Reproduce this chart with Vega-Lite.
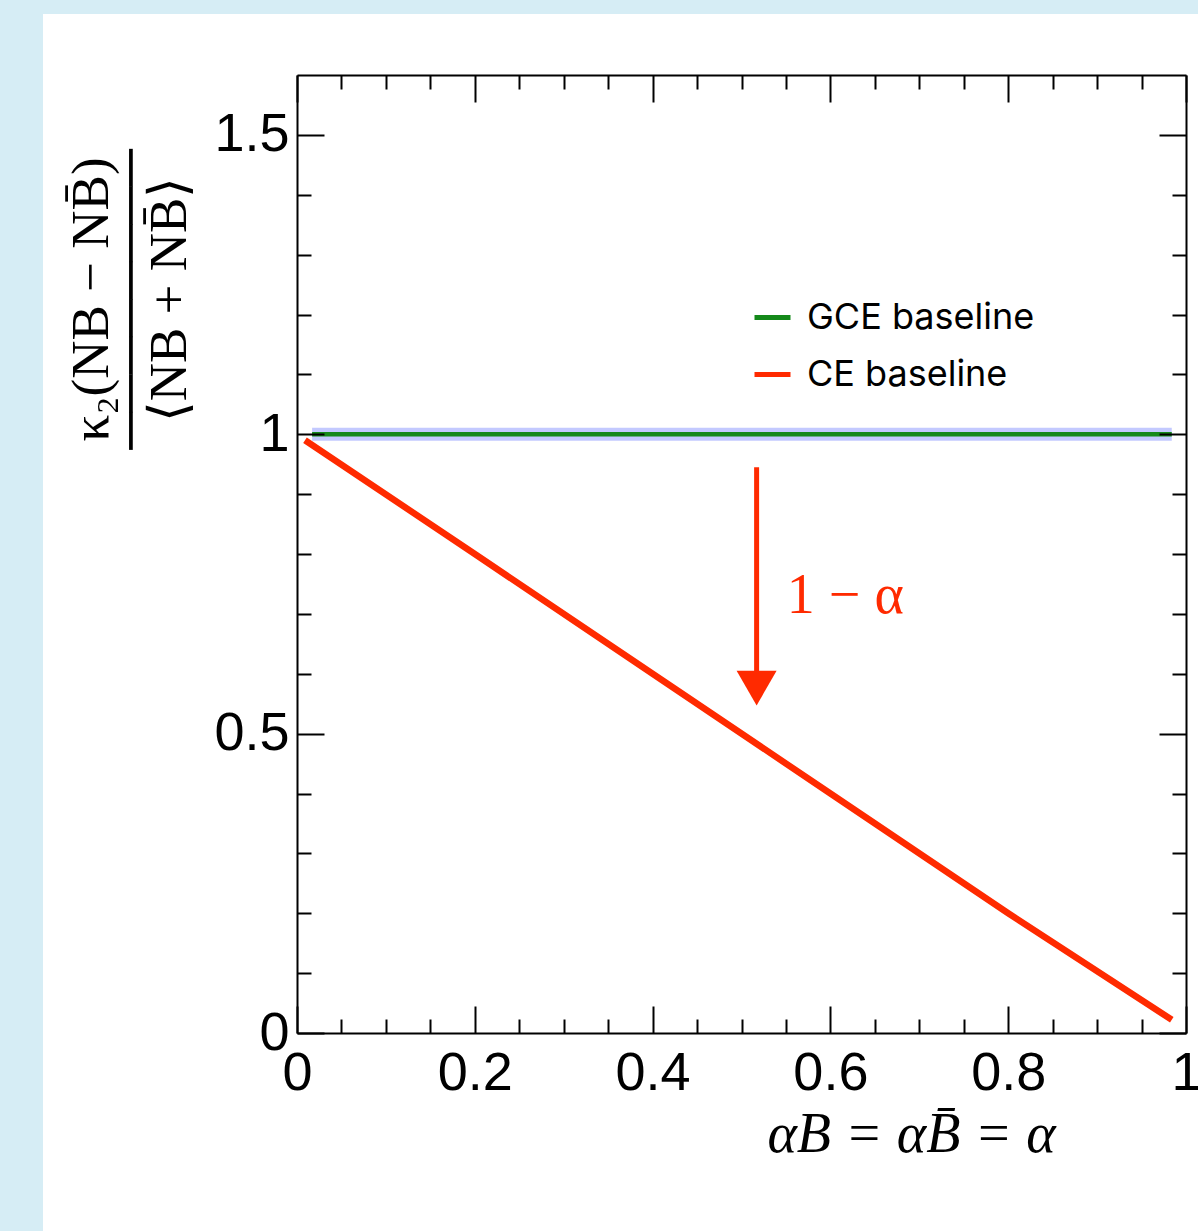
{
  "$schema": "https://vega.github.io/schema/vega-lite/v6.json",
  "width": 889,
  "height": 958,
  "autosize": {"type": "none"},
  "padding": {"left": 297, "top": 75, "right": 12, "bottom": 198},
  "background": "#d6edf5",
  "config": {
    "view": {"stroke": null},
    "axis": {
      "grid": false,
      "tickColor": "black",
      "tickWidth": 2,
      "domainColor": "black",
      "domainWidth": 2,
      "labelFont": "Liberation Sans",
      "labelFontSize": 54,
      "labelColor": "black",
      "labelFlush": false,
      "labelOverlap": false
    }
  },
  "resolve": {"axis": {"x": "independent", "y": "independent"}},
  "datasets": {
    "card": [{"part": "card"}],
    "baselines": [
      {"series": "GCE baseline", "alpha": 0.017, "ratio": 1.0},
      {"series": "GCE baseline", "alpha": 0.5, "ratio": 1.0},
      {"series": "GCE baseline", "alpha": 0.984, "ratio": 1.0},
      {"series": "CE baseline", "alpha": 0.009, "ratio": 0.99},
      {"series": "CE baseline", "alpha": 0.2, "ratio": 0.8},
      {"series": "CE baseline", "alpha": 0.4, "ratio": 0.6},
      {"series": "CE baseline", "alpha": 0.6, "ratio": 0.4},
      {"series": "CE baseline", "alpha": 0.8, "ratio": 0.2},
      {"series": "CE baseline", "alpha": 0.984, "ratio": 0.022}
    ],
    "arrow": [{"alpha": 0.517, "from": 0.945, "to": 0.576, "label": "1 − α", "labelAlpha": 0.551, "labelRatio": 0.702}]
  },
  "layer": [
    {
      "data": {"name": "card"},
      "mark": {"type": "rect", "fill": "white"},
      "encoding": {
        "x": {"datum": -0.2857, "type": "quantitative", "scale": {"domain": [0, 1], "nice": false, "zero": false},
          "axis": {"orient": "bottom", "zindex": 2, "values": [0, 0.2, 0.4, 0.6, 0.8, 1], "format": "~g", "tickSize": -27, "labelPadding": 40,
            "title": "αB = αB̄ = α", "titleFont": "Liberation Serif", "titleFontStyle": "italic", "titleFontWeight": "normal",
            "titleFontSize": 56, "titleColor": "black", "titleX": 614, "titleY": 118, "titleAlign": "center", "titleBaseline": "alphabetic", "titleAngle": 0}},
        "x2": {"datum": 1.0135},
        "y": {"datum": 1.702, "type": "quantitative", "scale": {"domain": [0, 1.6], "nice": false, "zero": false},
          "axis": {"orient": "left", "zindex": 2, "values": [0, 0.5, 1, 1.5], "format": "~g", "tickSize": -27, "labelPadding": 35,
            "title": ["κ₂(NB − NB̄)", "────────", "⟨NB + NB̄⟩"], "titleFont": "Liberation Serif", "titleFontWeight": "normal",
            "titleFontSize": 53, "titleLineHeight": 39, "titleColor": "black", "titleX": -190, "titleY": 224, "titleAlign": "center",
            "titleBaseline": "alphabetic", "titleAngle": -90}},
        "y2": {"datum": -0.331}
      }
    },
    {
      "data": {"name": "baselines"},
      "transform": [{"filter": "datum.series === 'GCE baseline'"}],
      "mark": {"type": "line", "color": "#6a78ff", "opacity": 0.4, "strokeWidth": 13},
      "encoding": {
        "x": {"field": "alpha", "type": "quantitative", "scale": {"domain": [0, 1], "nice": false, "zero": false},
          "axis": {"orient": "top", "zindex": 2, "values": [0, 0.2, 0.4, 0.6, 0.8, 1], "tickSize": -27, "labels": false, "title": null}},
        "y": {"field": "ratio", "type": "quantitative", "scale": {"domain": [0, 1.6], "nice": false, "zero": false},
          "axis": {"orient": "right", "zindex": 2, "values": [0, 0.5, 1, 1.5], "tickSize": -27, "labels": false, "title": null}}
      }
    },
    {
      "data": {"name": "baselines"},
      "transform": [{"filter": "datum.series === 'GCE baseline'"}],
      "mark": {"type": "line", "strokeWidth": 4.5},
      "encoding": {
        "x": {"field": "alpha", "type": "quantitative", "scale": {"domain": [0, 1], "nice": false, "zero": false},
          "axis": {"orient": "bottom", "zindex": 2, "values": [0.05, 0.1, 0.15, 0.25, 0.3, 0.35, 0.45, 0.5, 0.55, 0.65, 0.7, 0.75, 0.85, 0.9, 0.95], "tickSize": -14, "labels": false, "domain": false, "title": null}},
        "y": {"field": "ratio", "type": "quantitative", "scale": {"domain": [0, 1.6], "nice": false, "zero": false},
          "axis": {"orient": "left", "zindex": 2, "values": [0.1, 0.2, 0.3, 0.4, 0.6, 0.7, 0.8, 0.9, 1.1, 1.2, 1.3, 1.4], "tickSize": -14, "labels": false, "domain": false, "title": null}},
        "color": {"field": "series", "type": "nominal",
          "scale": {"domain": ["GCE baseline", "CE baseline"], "range": ["#14891a", "#ff2a00"]},
          "legend": {"orient": "none", "legendX": 455, "legendY": 222, "title": null, "symbolType": "stroke", "symbolSize": 1296,
            "symbolStrokeWidth": 5, "labelFont": "Inter", "labelFontSize": 36, "labelLimit": 500, "labelColor": "black", "labelOffset": 14, "rowPadding": 18, "padding": 0}}
      }
    },
    {
      "data": {"name": "baselines"},
      "transform": [{"filter": "datum.series === 'CE baseline'"}],
      "mark": {"type": "line", "strokeWidth": 6.5},
      "encoding": {
        "x": {"field": "alpha", "type": "quantitative", "scale": {"domain": [0, 1], "nice": false, "zero": false},
          "axis": {"orient": "top", "zindex": 2, "values": [0.05, 0.1, 0.15, 0.25, 0.3, 0.35, 0.45, 0.5, 0.55, 0.65, 0.7, 0.75, 0.85, 0.9, 0.95], "tickSize": -14, "labels": false, "domain": false, "title": null}},
        "y": {"field": "ratio", "type": "quantitative", "scale": {"domain": [0, 1.6], "nice": false, "zero": false},
          "axis": {"orient": "right", "zindex": 2, "values": [0.1, 0.2, 0.3, 0.4, 0.6, 0.7, 0.8, 0.9, 1.1, 1.2, 1.3, 1.4], "tickSize": -14, "labels": false, "domain": false, "title": null}},
        "color": {"field": "series", "type": "nominal",
          "scale": {"domain": ["GCE baseline", "CE baseline"], "range": ["#14891a", "#ff2a00"]}}
      }
    },
    {
      "data": {"name": "arrow"},
      "mark": {"type": "rule", "color": "#ff2a00", "strokeWidth": 5},
      "encoding": {
        "x": {"field": "alpha", "type": "quantitative", "scale": {"domain": [0, 1], "nice": false, "zero": false}, "axis": null},
        "y": {"field": "from", "type": "quantitative", "scale": {"domain": [0, 1.6], "nice": false, "zero": false}, "axis": null},
        "y2": {"field": "to"}
      }
    },
    {
      "data": {"name": "arrow"},
      "mark": {"type": "point", "shape": "triangle-down", "filled": true, "size": 1600, "color": "#ff2a00", "opacity": 1},
      "encoding": {
        "x": {"field": "alpha", "type": "quantitative", "scale": {"domain": [0, 1], "nice": false, "zero": false}, "axis": null},
        "y": {"field": "to", "type": "quantitative", "scale": {"domain": [0, 1.6], "nice": false, "zero": false}, "axis": null}
      }
    },
    {
      "data": {"name": "arrow"},
      "mark": {"type": "text", "align": "left", "baseline": "alphabetic", "font": "Liberation Serif", "fontSize": 56, "color": "#ff2a00"},
      "encoding": {
        "x": {"field": "labelAlpha", "type": "quantitative", "scale": {"domain": [0, 1], "nice": false, "zero": false}, "axis": null},
        "y": {"field": "labelRatio", "type": "quantitative", "scale": {"domain": [0, 1.6], "nice": false, "zero": false}, "axis": null},
        "text": {"field": "label"}
      }
    }
  ]
}
